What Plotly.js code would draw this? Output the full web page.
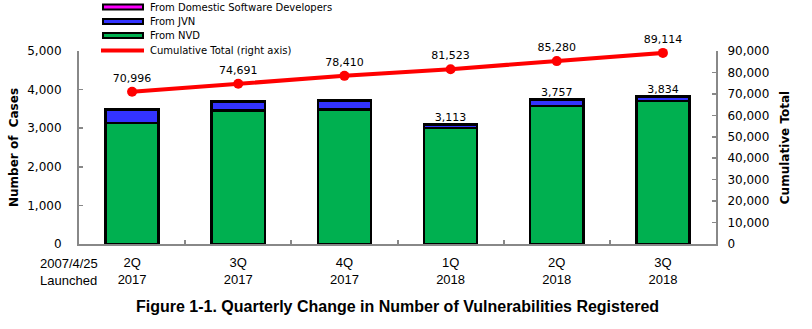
<!DOCTYPE html>
<html>
<head>
<meta charset="utf-8">
<script src="https://cdn.plot.ly/plotly-3.0.1.min.js"></script>
<style>html,body{margin:0;padding:0;background:#fff;}#chart{width:812px;height:329px;}</style>
</head>
<body>
<div id="chart"></div>
<script>
// ---- data ----
var categories = ["2Q<br>2017", "3Q<br>2017", "4Q<br>2017", "1Q<br>2018", "2Q<br>2018", "3Q<br>2018"];
var fromNVD = [3140, 3460, 3490, 3000, 3580, 3700];
var fromJVN = [330, 215, 210, 95, 160, 115];
var fromDomestic = [20, 20, 19, 18, 17, 19];
var cumulative = [70996, 74691, 78410, 81523, 85280, 89114];
var showTotalLabel = [false, false, false, true, true, true];
var legendNames = ["From Domestic Software Developers", "From JVN", "From NVD", "Cumulative Total (right axis)"];

// ---- layout geometry ----
var W = 812, H = 329;
var L = 79, R = 96, T = 51, B = 85;
var plotW = W - L - R, plotH = H - T - B;
function px(x) { return (x - L) / plotW; }
function py(y) { return (H - B - y) / plotH; }

var totals = fromNVD.map(function (v, i) { return v + fromJVN[i] + fromDomestic[i]; });
var totalText = totals.map(function (v, i) { return showTotalLabel[i] ? v.toLocaleString('en-US') : ''; });

var barLine = { color: '#000000', width: 2.5 };
var tickFont = { family: 'DejaVu Sans, Verdana, sans-serif', size: 12, color: '#000' };
var labelFont = { family: 'DejaVu Sans, Verdana, sans-serif', size: 11, color: '#000' };

var traces = [
  { type: 'bar', x: categories, y: fromNVD, name: legendNames[2], marker: { color: '#00B050', line: barLine }, showlegend: false, hoverinfo: 'y' },
  { type: 'bar', x: categories, y: fromJVN, name: legendNames[1], marker: { color: '#3333FF', line: barLine }, showlegend: false, hoverinfo: 'y' },
  { type: 'bar', x: categories, y: fromDomestic, name: legendNames[0], marker: { color: '#FF00FF', line: barLine }, showlegend: false, hoverinfo: 'y' },
  { type: 'scatter', mode: 'text', x: categories, y: totals, text: totalText, textposition: 'top center',
    textfont: labelFont, showlegend: false, hoverinfo: 'skip', cliponaxis: false },
  { type: 'scatter', mode: 'lines+markers+text', x: categories, y: cumulative, yaxis: 'y2', name: legendNames[3],
    line: { color: '#FF0000', width: 4 }, marker: { color: '#FF0000', size: 10 },
    text: cumulative.map(function (v) { return v.toLocaleString('en-US'); }), textposition: 'top center',
    textfont: labelFont, showlegend: false, cliponaxis: false }
];

// manual legend (long rectangles with black borders, like the original)
var legendColors = ['#FF00FF', '#3333FF', '#00B050'];
var legendY = [7, 21.5, 35.5, 50.5];
var shapes = [];
var annotations = [];
for (var i = 0; i < 3; i++) {
  shapes.push({ type: 'rect', xref: 'paper', yref: 'paper', x0: px(103), x1: px(143), y0: py(legendY[i] - 2.5), y1: py(legendY[i] + 2.5),
    fillcolor: legendColors[i], line: { color: '#000', width: 2 } });
}
shapes.push({ type: 'line', xref: 'paper', yref: 'paper', x0: px(101), x1: px(144), y0: py(legendY[3]), y1: py(legendY[3]),
  line: { color: '#FF0000', width: 4 } });
for (var j = 0; j < 4; j++) {
  annotations.push({ xref: 'paper', yref: 'paper', x: px(148), y: py(legendY[j]), xanchor: 'left', yanchor: 'middle',
    text: legendNames[j], showarrow: false, font: { family: 'DejaVu Sans, Verdana, sans-serif', size: 10, color: '#000' } });
}
annotations.push({ xref: 'paper', yref: 'paper', x: px(100), y: py(272), xanchor: 'right', yanchor: 'middle', align: 'left',
  text: '2007/4/25<br>Launched', showarrow: false, font: { family: 'Liberation Sans Narrow, Liberation Sans, sans-serif', size: 13, color: '#000' } });
annotations.push({ xref: 'paper', yref: 'paper', x: px(398), y: py(306), xanchor: 'center', yanchor: 'middle',
  text: '<b>Figure 1-1. Quarterly Change in Number of Vulnerabilities Registered</b>', showarrow: false,
  font: { family: 'Liberation Sans Narrow, Liberation Sans, sans-serif', size: 16, color: '#000' } });

var layout = {
  width: W, height: H,
  margin: { l: L, r: R, t: T, b: B, pad: 0 },
  paper_bgcolor: '#fff', plot_bgcolor: '#fff',
  barmode: 'stack', bargap: 0.5,
  showlegend: false,
  xaxis: {
    type: 'category', showgrid: false, zeroline: false,
    showline: true, linecolor: '#888', linewidth: 2,
    ticks: 'inside', tickson: 'boundaries', ticklen: 4, tickcolor: '#888', tickwidth: 2,
    ticklabelstandoff: 5,
    tickfont: { family: 'Liberation Sans Narrow, Liberation Sans, sans-serif', size: 13, color: '#000' },
    fixedrange: true
  },
  yaxis: {
    range: [0, 5000], dtick: 1000, tickformat: ',d', showgrid: false, zeroline: false,
    showline: true, linecolor: '#888', linewidth: 2,
    ticks: 'inside', ticklen: 4, tickcolor: '#888', tickwidth: 1.5,
    ticklabelstandoff: 13,
    tickfont: tickFont,
    title: { text: '<b>Number of  Cases</b>', font: { family: 'DejaVu Sans, Verdana, sans-serif', size: 12, color: '#000' }, standoff: 6 }
  },
  yaxis2: {
    overlaying: 'y', side: 'right', range: [0, 90000], dtick: 10000, tickformat: ',d', showgrid: false, zeroline: false,
    showline: true, linecolor: '#888', linewidth: 2,
    ticks: 'inside', ticklen: 4, tickcolor: '#888', tickwidth: 1.5,
    ticklabelstandoff: 7,
    tickfont: tickFont,
    title: { text: '<b>Cumulative Total</b>', font: { family: 'DejaVu Sans, Verdana, sans-serif', size: 12, color: '#000' }, standoff: 12 }
  },
  shapes: shapes,
  annotations: annotations
};

Plotly.newPlot('chart', traces, layout, { displayModeBar: false, staticPlot: true });
</script>
</body>
</html>
